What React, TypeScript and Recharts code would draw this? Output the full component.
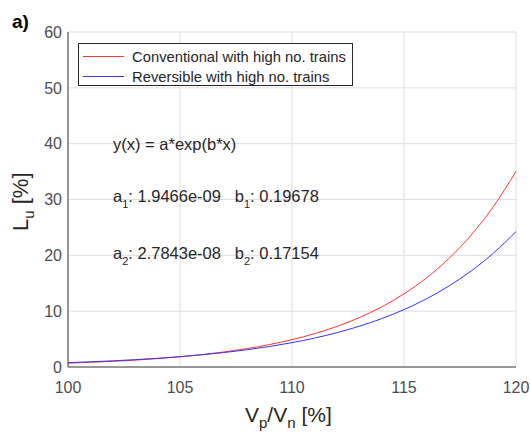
import React from 'react';
import { LineChart, Line, XAxis, YAxis, CartesianGrid, Customized } from 'recharts';

const xValues = [100, 101, 102, 103, 104, 105, 106, 107, 108, 109, 110, 111, 112, 113, 114, 115, 116, 117, 118, 119, 120];
const conventional = [0.684, 0.833, 1.014, 1.235, 1.503, 1.83, 2.228, 2.713, 3.303, 4.022, 4.896, 5.961, 7.258, 8.836, 10.76, 13.1, 15.95, 19.41, 23.64, 28.78, 35.04];
const reversible = [0.785, 0.931, 1.106, 1.313, 1.558, 1.85, 2.196, 2.607, 3.095, 3.674, 4.361, 5.177, 6.146, 7.296, 8.661, 10.28, 12.2, 14.49, 17.2, 20.42, 24.24];
const xTicks = [100, 105, 110, 115, 120];
const yTicks = [0, 10, 20, 30, 40, 50, 60];
const seriesNames = ['Conventional with high no. trains', 'Reversible with high no. trains'];
const seriesColors = ['#ff3333', '#3333ff'];

const data = xValues.map((x, i) => ({ x, conv: conventional[i], rev: reversible[i] }));

const FONT = 'Liberation Sans, Arial, sans-serif';
const TXT = '#262626';
const TICK = '#4d4d4d';
const AX = '#404040';

const pre: React.CSSProperties = { whiteSpace: 'pre' };

const Overlay = () => (
  <g fontFamily={FONT}>
    <text x={12} y={28} fontSize={19} fontWeight="bold" fill="#000">a)</text>
    {/* legend */}
    <rect x={78.5} y={43.5} width={274} height={42} fill="#fff" stroke="#262626" strokeWidth={1} />
    <line x1={83} x2={124} y1={56.5} y2={56.5} stroke={seriesColors[0]} strokeWidth={1} />
    <line x1={83} x2={124} y1={76.5} y2={76.5} stroke={seriesColors[1]} strokeWidth={1} />
    <text x={132} y={61.5} fontSize={14.8} fill={TXT}>{seriesNames[0]}</text>
    <text x={132} y={81.5} fontSize={14.8} fill={TXT}>{seriesNames[1]}</text>
    {/* annotations */}
    <text x={113} y={150} fontSize={16.5} fill={TXT}>y(x) = a*exp(b*x)</text>
    <text x={113} y={202} fontSize={16.5} fill={TXT} style={pre}>
      a<tspan fontSize={11} dy={6}>1</tspan><tspan dy={-6}>{': 1.9466e-09   b'}</tspan><tspan fontSize={11} dy={6}>1</tspan><tspan dy={-6}>: 0.19678</tspan>
    </text>
    <text x={113} y={259} fontSize={16.5} fill={TXT} style={pre}>
      a<tspan fontSize={11} dy={6}>2</tspan><tspan dy={-6}>{': 2.7843e-08   b'}</tspan><tspan fontSize={11} dy={6}>2</tspan><tspan dy={-6}>: 0.17154</tspan>
    </text>
    {/* axis labels */}
    <text x={245} y={422} fontSize={21} fill={TXT}>
      V<tspan fontSize={15} dy={6}>p</tspan><tspan dy={-6}>/V</tspan><tspan fontSize={15} dy={6}>n</tspan><tspan dy={-6}> [%]</tspan>
    </text>
    <text transform="translate(28,231) rotate(-90)" x={0} y={0} fontSize={22} fill={TXT}>
      L<tspan fontSize={15} dy={6}>u</tspan><tspan dy={-6}> [%]</tspan>
    </text>
  </g>
);

export default function App() {
  return (
    <div style={{ position: 'absolute', left: 0, top: 0, background: '#fff' }}>
      <LineChart width={530} height={435} data={data} margin={{ top: 32, right: 14, bottom: 28, left: 8 }}>
        <CartesianGrid xAxisId="b" yAxisId="l" stroke="#dedede" horizontalValues={yTicks} verticalValues={xTicks} />
        <XAxis
          xAxisId="b"
          dataKey="x"
          type="number"
          domain={[100, 120]}
          ticks={xTicks}
          height={40}
          stroke={AX}
          tickLine={false}
          tickSize={0}
          tickMargin={15}
          tick={{ fill: TICK, fontSize: 16, fontFamily: FONT }}
        />
        <XAxis
          xAxisId="bm"
          dataKey="x"
          type="number"
          domain={[100, 120]}
          ticks={xTicks}
          height={0}
          mirror
          stroke={AX}
          axisLine={false}
          tickSize={5}
          tick={false}
        />
        <XAxis
          xAxisId="t"
          orientation="top"
          dataKey="x"
          type="number"
          domain={[100, 120]}
          ticks={xTicks}
          height={0}
          mirror
          stroke={AX}
          tickSize={5}
          tick={false}
        />
        <YAxis
          yAxisId="l"
          type="number"
          domain={[0, 60]}
          ticks={yTicks}
          width={60}
          stroke={AX}
          tickLine={false}
          tickSize={0}
          tickMargin={6}
          tick={{ fill: TICK, fontSize: 16, fontFamily: FONT }}
        />
        <YAxis
          yAxisId="lm"
          type="number"
          domain={[0, 60]}
          ticks={yTicks}
          width={0}
          mirror
          stroke={AX}
          axisLine={false}
          tickSize={5}
          tick={false}
        />
        <YAxis
          yAxisId="r"
          orientation="right"
          type="number"
          domain={[0, 60]}
          ticks={yTicks}
          width={0}
          mirror
          stroke={AX}
          tickSize={5}
          tick={false}
        />
        <Line xAxisId="b" yAxisId="l" type="monotone" dataKey="conv" stroke={seriesColors[0]} strokeWidth={1} dot={false} isAnimationActive={false} />
        <Line xAxisId="b" yAxisId="l" type="monotone" dataKey="rev" stroke={seriesColors[1]} strokeWidth={1} dot={false} isAnimationActive={false} />
        <Customized component={Overlay} />
      </LineChart>
    </div>
  );
}
